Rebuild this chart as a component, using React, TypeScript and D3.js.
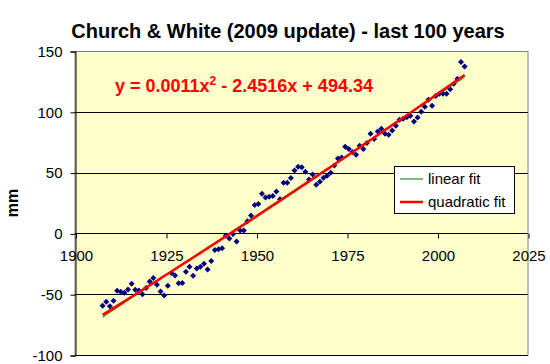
import React, { useRef, useEffect } from 'react';
import * as d3 from 'd3';

// annual mean sea level (mm), one value per year starting 1907.5
const firstYear = 1907.5;
const seaLevel = [
  -59.5, -56.2, -60.0, -55.4, -47.2, -48.0, -48.8, -46.1, -41.4, -46.3,
  -47.0, -50.0, -45.0, -39.5, -36.7, -42.2, -47.7, -51.0, -43.0, -32.6,
  -34.7, -41.0, -40.7, -31.6, -27.5, -34.8, -28.8, -27.4, -24.9, -29.7,
  -22.6, -13.7, -13.0, -12.3, -1.9, -4.2, -0.5, -6.7, 2.3, 2.3,
  10.0, 14.8, 23.3, 24.1, 32.6, 29.6, 30.2, 30.7, 34.5, 28.0,
  41.7, 41.7, 45.5, 51.8, 54.9, 54.3, 50.7, 44.4, 48.5, 40.0,
  42.5, 45.8, 47.4, 49.9, 55.8, 61.6, 62.5, 71.2, 69.4, 67.0,
  64.6, 72.0, 69.4, 74.3, 82.0, 77.7, 83.9, 86.0, 82.0, 81.2,
  84.6, 88.6, 93.5, 94.3, 95.6, 96.7, 92.1, 95.3, 100.1, 104.2,
  109.9, 105.0, 113.0, 114.9, 114.9, 114.9, 118.5, 123.1, 127.2, 140.9,
  137.3,
];

const yTicks = [-100, -50, 0, 50, 100, 150];
const xTicks = [1900, 1925, 1950, 1975, 2000, 2025];
const legendItems = [
  { label: 'linear fit', color: '#007000', width: 1 },
  { label: 'quadratic fit', color: '#ff0000', width: 2.5 },
];

// least squares polynomial fit (degree 1 or 2), x centred for stability
function polyFit(xs: number[], ys: number[], degree: number) {
  const mx = d3.mean(xs) as number;
  const m = degree + 1;
  const A: number[][] = [];
  for (let r = 0; r < m; r++) {
    A.push([]);
    for (let c = 0; c < m; c++) A[r].push(d3.sum(xs, x => Math.pow(x - mx, r + c)));
    A[r].push(d3.sum(xs, (x, i) => Math.pow(x - mx, r) * ys[i]));
  }
  for (let p = 0; p < m; p++) {
    for (let r = p + 1; r < m; r++) {
      const f = A[r][p] / A[p][p];
      for (let c = p; c <= m; c++) A[r][c] -= f * A[p][c];
    }
  }
  const coef = new Array(m).fill(0);
  for (let r = m - 1; r >= 0; r--) {
    let s = A[r][m];
    for (let c = r + 1; c < m; c++) s -= A[r][c] * coef[c];
    coef[r] = s / A[r][r];
  }
  return (x: number) => coef.reduce((acc, k, i) => acc + k * Math.pow(x - mx, i), 0);
}

const Chart = () => {
  const ref = useRef(null);

  useEffect(() => {
    if (!ref.current) return;
    const width = 550;
    const height = 364;
    const plot = { left: 75, right: 528, top: 51, bottom: 355 };
    const font = 'Arial, "Liberation Sans", sans-serif';

    d3.select(ref.current).select('svg').remove();
    const svg = d3.select(ref.current)
      .append('svg')
      .attr('width', width)
      .attr('height', height)
      .style('position', 'absolute')
      .style('left', 0)
      .style('top', 0)
      .style('font-family', font);

    svg.append('rect').attr('width', width).attr('height', height).attr('fill', '#fff');

    const x = d3.scaleLinear().domain([1900, 2025]).range([plot.left + 0.5, plot.right]);
    const y = d3.scaleLinear().domain([-100, 150]).range([plot.bottom, plot.top]);

    // plot area
    svg.append('rect')
      .attr('x', plot.left)
      .attr('y', plot.top + 0.5)
      .attr('width', plot.right - plot.left)
      .attr('height', plot.bottom - plot.top)
      .attr('fill', '#ffffcc')
      .attr('stroke', '#808080');

    // gridlines
    svg.append('g')
      .selectAll('line')
      .data(yTicks.filter(t => t !== 150))
      .join('line')
      .attr('x1', plot.left)
      .attr('x2', plot.right)
      .attr('y1', d => Math.round(y(d)) + 0.5)
      .attr('y2', d => Math.round(y(d)) + 0.5)
      .attr('stroke', '#000');

    // y axis
    const yAxis = svg.append('g').attr('transform', `translate(${plot.left + 0.5},0.5)`)
      .call(d3.axisLeft(y).tickValues(yTicks).tickSize(5).tickPadding(8).tickFormat(d => String(d)));
    yAxis.select('.domain').attr('stroke', '#000');
    yAxis.selectAll('text').attr('font-size', 15).attr('font-family', font).attr('fill', '#000');

    // x axis along zero
    const xAxis = svg.append('g').attr('transform', `translate(0.5,${Math.round(y(0)) + 0.5})`)
      .call(d3.axisBottom(x).tickValues(xTicks).tickSize(5).tickPadding(12).tickFormat(d => String(d)));
    xAxis.select('.domain').remove();
    xAxis.selectAll('text').attr('font-size', 15).attr('font-family', font).attr('fill', '#000');

    const years = seaLevel.map((_, i) => firstYear + i);

    // data points
    svg.append('g')
      .selectAll('path')
      .data(seaLevel)
      .join('path')
      .attr('transform', (d, i) => `translate(${x(years[i])},${y(d)})`)
      .attr('d', 'M0,-3L3,0L0,3L-3,0Z')
      .attr('fill', '#000080');

    // trendlines
    const linFit = polyFit(years, seaLevel, 1);
    const quadFit = polyFit(years, seaLevel, 2);
    const line = d3.line<number>().x(d => x(d)).y(d => y(d));
    svg.append('path')
      .attr('d', line.y(d => y(linFit(d)))(years))
      .attr('fill', 'none')
      .attr('stroke', legendItems[0].color)
      .attr('stroke-width', legendItems[0].width);
    svg.append('path')
      .attr('d', line.y(d => y(quadFit(d)))(years))
      .attr('fill', 'none')
      .attr('stroke', legendItems[1].color)
      .attr('stroke-width', legendItems[1].width);

    // title
    svg.append('text')
      .attr('x', 288)
      .attr('y', 38)
      .attr('text-anchor', 'middle')
      .attr('font-size', 20)
      .attr('font-weight', 'bold')
      .text('Church & White (2009 update) - last 100 years');

    // y label
    svg.append('text')
      .attr('transform', `translate(18,${(plot.top + plot.bottom) / 2}) rotate(-90)`)
      .attr('text-anchor', 'middle')
      .attr('font-size', 16)
      .attr('font-weight', 'bold')
      .text('mm');

    // equation
    const eq = svg.append('text')
      .attr('x', 115)
      .attr('y', 92)
      .attr('font-size', 18)
      .attr('font-weight', 'bold')
      .attr('fill', '#ff0000');
    eq.append('tspan').text('y = 0.0011x');
    eq.append('tspan').attr('dy', -7).attr('font-size', 12).text('2');
    eq.append('tspan').attr('dy', 7).text(' - 2.4516x + 494.34');

    // legend
    const lg = svg.append('g').attr('transform', 'translate(394,166)');
    lg.append('rect')
      .attr('x', 0.5)
      .attr('y', 0.5)
      .attr('width', 120)
      .attr('height', 47)
      .attr('fill', '#fff')
      .attr('stroke', '#000');
    legendItems.forEach((item, i) => {
      const cy = 13 + i * 23;
      lg.append('line')
        .attr('x1', 6)
        .attr('x2', 29)
        .attr('y1', cy)
        .attr('y2', cy)
        .attr('stroke', item.color)
        .attr('stroke-width', item.width);
      lg.append('text')
        .attr('x', 34)
        .attr('y', cy + 5)
        .attr('font-size', 15)
        .text(item.label);
    });
  }, []);

  return <div ref={ref} />;
};

export default function App() {
  return <Chart />;
}
